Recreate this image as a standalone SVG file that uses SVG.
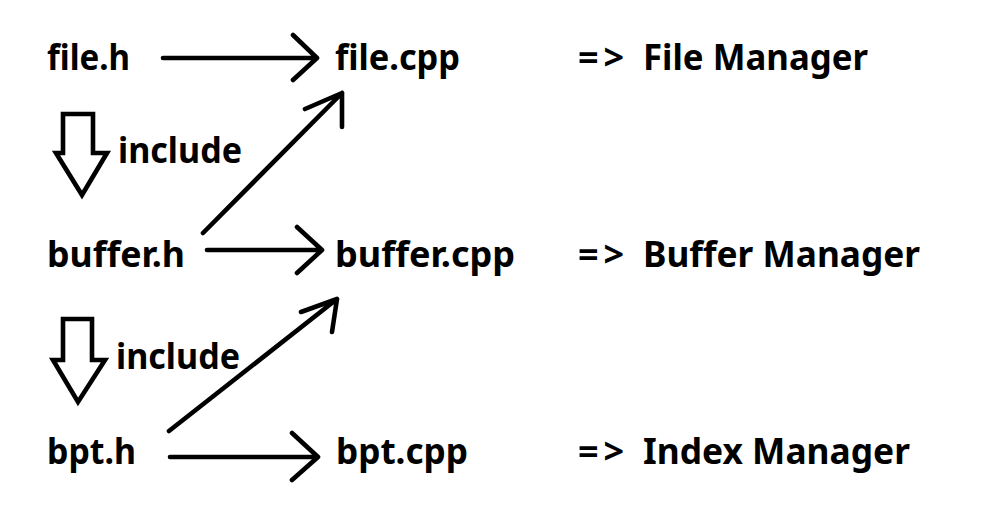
<svg xmlns="http://www.w3.org/2000/svg" width="981" height="518" viewBox="0 0 981 518">
<style>
text{font-family:"Noto Sans","Open Sans","DejaVu Sans",sans-serif;font-weight:bold;font-size:36px;fill:#000}
.ar{letter-spacing:5px}
.ln{fill:none;stroke:#000;stroke-width:4.6;stroke-linecap:round;stroke-linejoin:round}
.hol{fill:#fff;stroke:#000;stroke-width:4.6;stroke-linejoin:miter}
</style>
<rect width="981" height="518" fill="#fff"/>
<g id="file_h"><text x="47" y="70" textLength="83" lengthAdjust="spacingAndGlyphs">file.h</text></g>
<g id="buffer_h"><text x="47" y="267" textLength="138" lengthAdjust="spacingAndGlyphs">buffer.h</text></g>
<g id="bpt_h"><text x="47" y="464" textLength="89" lengthAdjust="spacingAndGlyphs">bpt.h</text></g>
<g id="file_cpp"><text x="335" y="70" textLength="125" lengthAdjust="spacingAndGlyphs">file.cpp</text></g>
<g id="buffer_cpp"><text x="335" y="267" textLength="180" lengthAdjust="spacingAndGlyphs">buffer.cpp</text></g>
<g id="bpt_cpp"><text x="336" y="464" textLength="132" lengthAdjust="spacingAndGlyphs">bpt.cpp</text></g>
<g id="file_manager"><text y="70"><tspan x="578" class="ar">=&gt;</tspan><tspan x="643" textLength="225" lengthAdjust="spacingAndGlyphs">File Manager</tspan></text></g>
<g id="buffer_manager"><text y="267"><tspan x="578" class="ar">=&gt;</tspan><tspan x="643" textLength="277" lengthAdjust="spacingAndGlyphs">Buffer Manager</tspan></text></g>
<g id="index_manager"><text y="464"><tspan x="578" class="ar">=&gt;</tspan><tspan x="643" textLength="267" lengthAdjust="spacingAndGlyphs">Index Manager</tspan></text></g>
<g id="connectors">
<path class="ln" d="M163,58 L317,58 M293,35 L317,58 L293,80"/>
<path class="ln" d="M207,250 L322,250 M297,227 L322,250 L297,273"/>
<path class="ln" d="M170,457 L318,457 M292,433 L318,457 L292,480"/>
<path class="ln" d="M203,233 L342,93 M305,109 L342,93 L342,127"/>
<path class="ln" d="M169,431 L337,299 M301,312 L337,299 L332,332"/>
<path class="hol" d="M63,114 L93,114 L93,153 L107,153 L82,195 L56,153 L63,153 Z"/>
<text x="118" y="163" textLength="124" lengthAdjust="spacingAndGlyphs">include</text>
<path class="hol" d="M63,319 L92,319 L92,360 L105,360 L78,402 L53,360 L63,360 Z"/>
<text x="116" y="369" textLength="124" lengthAdjust="spacingAndGlyphs">include</text>
</g>
</svg>
